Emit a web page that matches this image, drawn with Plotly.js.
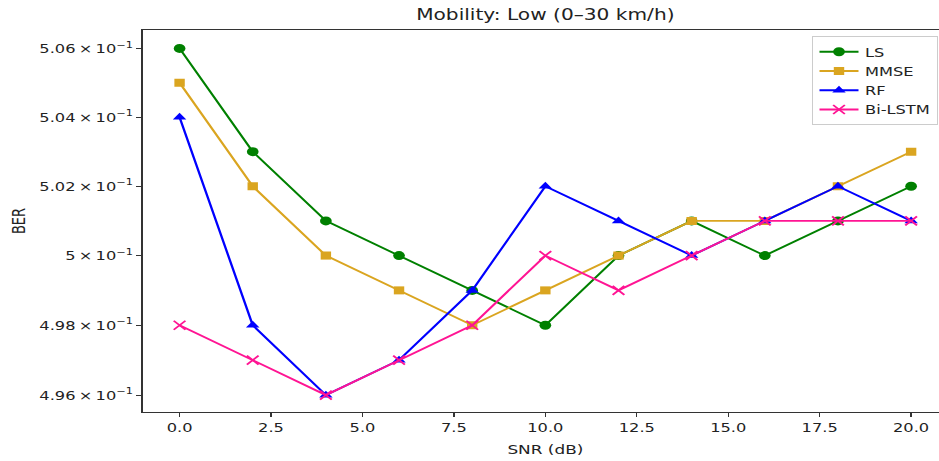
<!DOCTYPE html>
<html><head><meta charset="utf-8">
<script src="https://cdn.plot.ly/plotly-3.0.1.min.js"></script>
<style>
html,body{margin:0;padding:0;overflow:hidden;background:#fff;width:939px;height:461px;}
#chart{width:731px;height:461px;transform:scaleX(1.3);transform-origin:0 0;}
</style>
</head><body><div id="chart"></div>
<script>
const snr = [0, 2, 4, 6, 8, 10, 12, 14, 16, 18, 20];
const ls = [0.506, 0.503, 0.501, 0.500, 0.499, 0.498, 0.500, 0.501, 0.500, 0.501, 0.502];
const mmse = [0.505, 0.502, 0.500, 0.499, 0.498, 0.499, 0.500, 0.501, 0.501, 0.502, 0.503];
const rf = [0.504, 0.498, 0.496, 0.497, 0.499, 0.502, 0.501, 0.500, 0.501, 0.502, 0.501];
const bilstm = [0.498, 0.497, 0.496, 0.497, 0.498, 0.500, 0.499, 0.500, 0.501, 0.501, 0.501];
const yTickVals = [0.496, 0.498, 0.500, 0.502, 0.504, 0.506];
const yTickText = ["4.96\u2009×\u200910<sup>−1</sup>", "4.98\u2009×\u200910<sup>−1</sup>", "5\u2009×\u200910<sup>−1</sup>", "5.02\u2009×\u200910<sup>−1</sup>", "5.04\u2009×\u200910<sup>−1</sup>", "5.06\u2009×\u200910<sup>−1</sup>"];
const xTickVals = [0, 2.5, 5, 7.5, 10, 12.5, 15, 17.5, 20];
const xTickText = ["0.0", "2.5", "5.0", "7.5", "10.0", "12.5", "15.0", "17.5", "20.0"];

function tr(name, y, color, symbol, msize) {
  const isX = symbol.startsWith('x');
  return {x: snr, y: y, name: name, type: 'scatter', mode: 'lines+markers',
    line: {color: color, width: 1.8},
    marker: {color: color, symbol: symbol, size: msize, line: {color: color, width: isX ? 1.6 : 0}}};
}
const data = [
  tr('LS', ls, '#008000', 'circle', 9),
  tr('MMSE', mmse, '#DAA520', 'square', 8),
  tr('RF', rf, '#0000FF', 'triangle-up', 9),
  tr('Bi-LSTM', bilstm, '#FF1493', 'x-thin-open', 9)
];
const font = {family: 'DejaVu Sans, sans-serif', size: 13, color: '#222'};
const layout = {
  width: 731, height: 461,
  margin: {l: 110, r: 2, t: 30, b: 49},
  paper_bgcolor: '#fff', plot_bgcolor: '#fff',
  font: font,
  showlegend: true,
  title: {text: 'Mobility: Low (0–30 km/h)', x: 0.5, xref: 'paper', xanchor: 'center', y: 0.968, yanchor: 'middle', font: {family: 'DejaVu Sans, sans-serif', size: 15.5, color: '#222'}},
  xaxis: {range: [-1, 21], tickvals: xTickVals, ticktext: xTickText, showgrid: false, zeroline: false,
    ticks: 'outside', ticklen: 4, tickcolor: '#333', showline: true, linecolor: '#333', linewidth: 1.2, mirror: true,
    tickfont: {size: 12.5},
    title: {text: 'SNR (dB)', font: {size: 13}, standoff: 10}},
  yaxis: {type: 'log', range: [-0.30494, -0.29539], tickvals: yTickVals, ticktext: yTickText, showgrid: false, zeroline: false,
    ticks: 'outside', ticklen: 4, tickcolor: '#333', showline: true, linecolor: '#333', linewidth: 1.2, mirror: true,
    tickfont: {size: 12.5},
    title: {text: 'BER', font: {size: 13}, standoff: 7}},
  legend: {x: 0.831, xanchor: 'left', y: 0.984, yanchor: 'top', bgcolor: 'rgba(255,255,255,0.9)', bordercolor: '#ccc', borderwidth: 1,
    font: {size: 12.5}, tracegroupgap: 0, itemwidth: 30}
};
Plotly.newPlot('chart', data, layout, {displayModeBar: false, staticPlot: true});
</script></body></html>
